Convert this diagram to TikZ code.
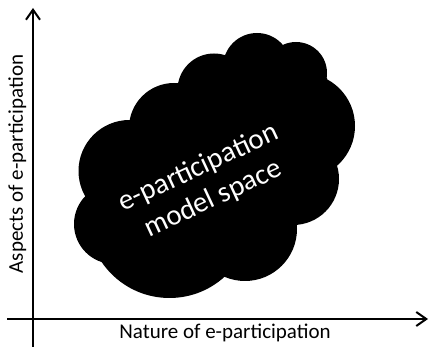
\documentclass[tikz,border=0pt]{standalone}
\usepackage{fontspec}
\setmainfont{Carlito}
\usetikzlibrary{arrows.meta}
\begin{document}
\begin{tikzpicture}[x=1pt,y=-1pt,
  axis/.style={line width=2pt,-{Straight Barb[length=10pt,width=14pt,line width=2pt]}},
  cloudfill/.style={fill=black},
  lab/.style={font=\fontsize{21}{25}\selectfont,inner sep=0pt,anchor=base},
  cloudtext/.style={text=white,font=\fontsize{29}{34.4}\selectfont,rotate=25,align=center,inner sep=0pt}]
\useasboundingbox (0,0) rectangle (429,347);
% cloud body
\fill[cloudfill] (225,55) -- (283,45) -- (327,78) -- (337,166) -- (297,225) -- (225,276) -- (102,262) -- (85,196) -- (130,120) -- (178,83) -- cycle;
\foreach \cx/\cy/\r in {257/67/34, 296/73/31, 302/126/53, 293/179/46, 245/229/52, 169.5/216/82, 114/224/40, 129.5/171/51, 174/128/45, 214/90/36.5}
  \fill[cloudfill] (\cx,\cy) circle[radius={\r*1pt}];
\node[cloudtext] (ctext) at (206,183.6) {e-participation\\model space};
% axes
\coordinate (yb) at (33,347);
\coordinate (yt) at (33,8);
\coordinate (xl) at (7,319);
\coordinate (xr) at (428,319);
\draw[axis] (yb) -- (yt);
\draw[axis] (xl) -- (xr);
\node[lab,rotate=90] (ylab) at (23,164) {Aspects of e-participation};
\node[lab] (xlab) at (225,339) {Nature of e-participation};
\end{tikzpicture}
\end{document}
